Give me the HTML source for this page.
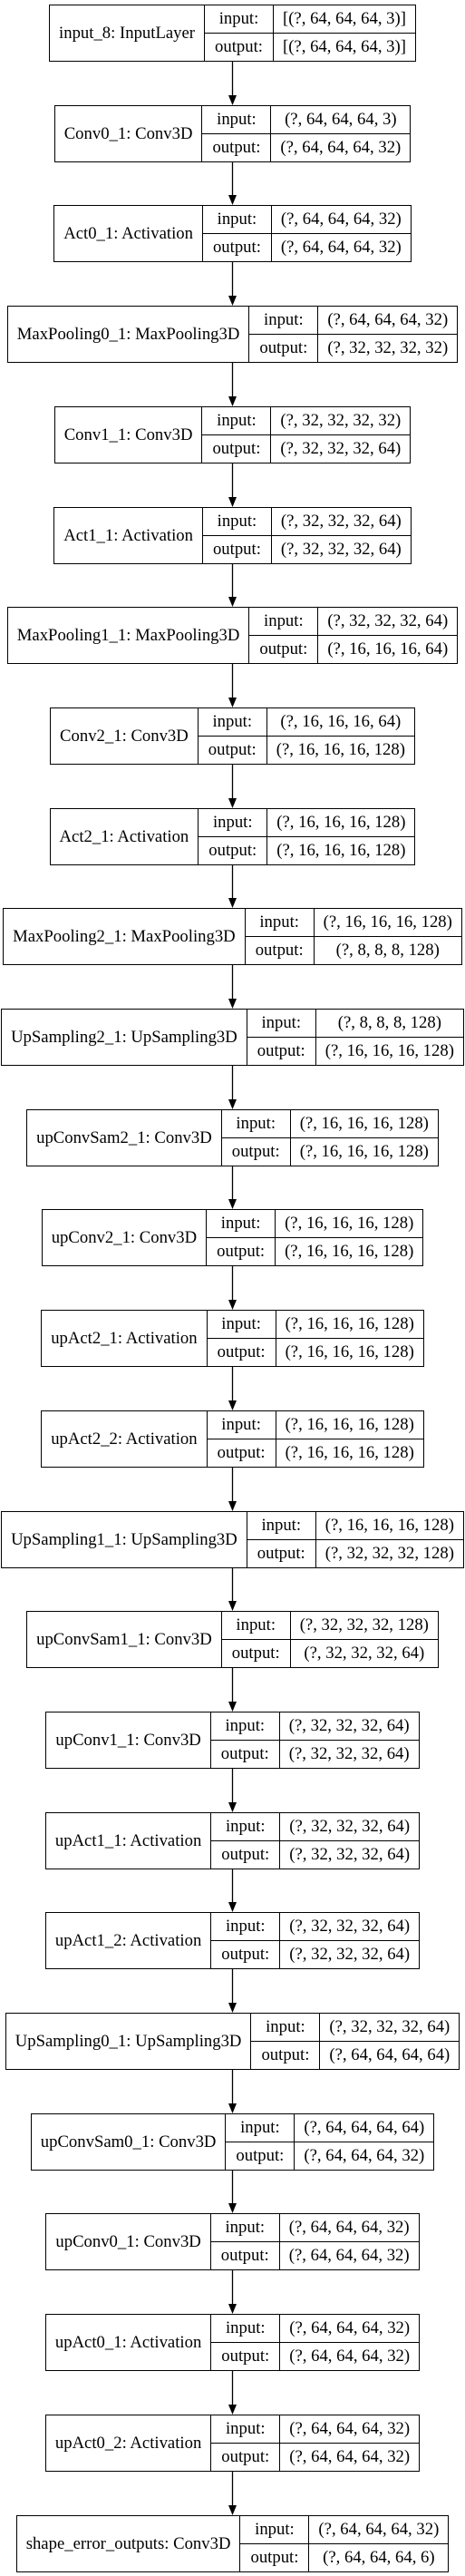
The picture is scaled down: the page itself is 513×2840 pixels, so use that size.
<!DOCTYPE html>
<html><head><meta charset="utf-8"><style>
html,body{margin:0;padding:0;background:#fff;}
body{width:513px;height:2840px;position:relative;overflow:hidden;font-family:"Liberation Serif","Times New Roman",serif;font-size:18.7px;color:#000;}
.n{position:absolute;left:0;width:513px;text-align:center;}
table{display:inline-table;border-collapse:collapse;height:62px;vertical-align:top;}
td{border:1px solid #000;padding:0 10px;white-space:nowrap;text-align:center;height:30px;line-height:18px;}
td.lb{padding:0 11px;}
svg{position:absolute;left:0;top:0;}
</style></head><body>
<svg width="513" height="2840" id="arr"></svg>
<div id="c"></div>
<script>
var d=[
["input_8: InputLayer","[(?, 64, 64, 64, 3)]","[(?, 64, 64, 64, 3)]"],
["Conv0_1: Conv3D","(?, 64, 64, 64, 3)","(?, 64, 64, 64, 32)"],
["Act0_1: Activation","(?, 64, 64, 64, 32)","(?, 64, 64, 64, 32)"],
["MaxPooling0_1: MaxPooling3D","(?, 64, 64, 64, 32)","(?, 32, 32, 32, 32)"],
["Conv1_1: Conv3D","(?, 32, 32, 32, 32)","(?, 32, 32, 32, 64)"],
["Act1_1: Activation","(?, 32, 32, 32, 64)","(?, 32, 32, 32, 64)"],
["MaxPooling1_1: MaxPooling3D","(?, 32, 32, 32, 64)","(?, 16, 16, 16, 64)"],
["Conv2_1: Conv3D","(?, 16, 16, 16, 64)","(?, 16, 16, 16, 128)"],
["Act2_1: Activation","(?, 16, 16, 16, 128)","(?, 16, 16, 16, 128)"],
["MaxPooling2_1: MaxPooling3D","(?, 16, 16, 16, 128)","(?, 8, 8, 8, 128)"],
["UpSampling2_1: UpSampling3D","(?, 8, 8, 8, 128)","(?, 16, 16, 16, 128)"],
["upConvSam2_1: Conv3D","(?, 16, 16, 16, 128)","(?, 16, 16, 16, 128)"],
["upConv2_1: Conv3D","(?, 16, 16, 16, 128)","(?, 16, 16, 16, 128)"],
["upAct2_1: Activation","(?, 16, 16, 16, 128)","(?, 16, 16, 16, 128)"],
["upAct2_2: Activation","(?, 16, 16, 16, 128)","(?, 16, 16, 16, 128)"],
["UpSampling1_1: UpSampling3D","(?, 16, 16, 16, 128)","(?, 32, 32, 32, 128)"],
["upConvSam1_1: Conv3D","(?, 32, 32, 32, 128)","(?, 32, 32, 32, 64)"],
["upConv1_1: Conv3D","(?, 32, 32, 32, 64)","(?, 32, 32, 32, 64)"],
["upAct1_1: Activation","(?, 32, 32, 32, 64)","(?, 32, 32, 32, 64)"],
["upAct1_2: Activation","(?, 32, 32, 32, 64)","(?, 32, 32, 32, 64)"],
["UpSampling0_1: UpSampling3D","(?, 32, 32, 32, 64)","(?, 64, 64, 64, 64)"],
["upConvSam0_1: Conv3D","(?, 64, 64, 64, 64)","(?, 64, 64, 64, 32)"],
["upConv0_1: Conv3D","(?, 64, 64, 64, 32)","(?, 64, 64, 64, 32)"],
["upAct0_1: Activation","(?, 64, 64, 64, 32)","(?, 64, 64, 64, 32)"],
["upAct0_2: Activation","(?, 64, 64, 64, 32)","(?, 64, 64, 64, 32)"],
["shape_error_outputs: Conv3D","(?, 64, 64, 64, 32)","(?, 64, 64, 64, 6)"]
];
var h="",s="",S=110.7;
for(var i=0;i<d.length;i++){
 var t=Math.round(5+i*S);
 h+='<div class="n" style="top:'+t+'px"><table><tr><td class="nm" rowspan="2">'+d[i][0]+'</td><td class="lb">input:</td><td>'+d[i][1]+'</td></tr><tr><td class="lb">output:</td><td>'+d[i][2]+'</td></tr></table></div>';
 if(i<d.length-1){
  var y1=t+62,y2=Math.round(5+(i+1)*S);
  s+='<line x1="256.5" y1="'+y1+'" x2="256.5" y2="'+(y2-10)+'" stroke="#000" stroke-width="1.3"/>';
  s+='<polygon points="252,'+(y2-11)+' 261,'+(y2-11)+' 256.5,'+y2+'" fill="#000"/>';
 }
}
document.getElementById("c").innerHTML=h;
document.getElementById("arr").innerHTML=s;
</script>
</body></html>
